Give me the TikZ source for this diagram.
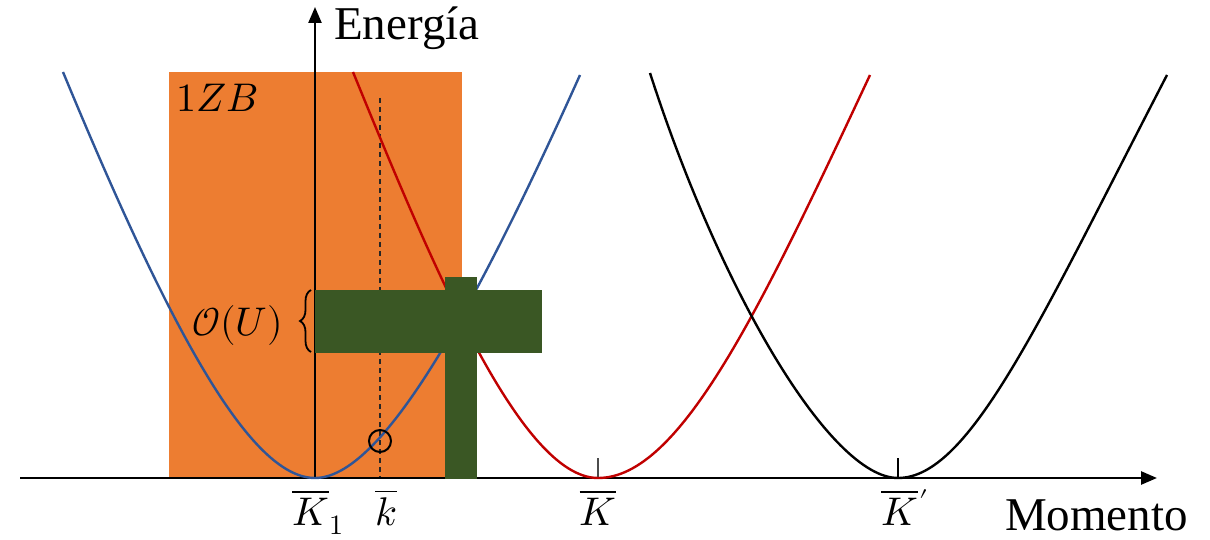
\documentclass[tikz,border=0pt]{standalone}
\usepackage{fontspec}
\usepackage{unicode-math}
\setmainfont{Liberation Serif}
\setmathfont{Latin Modern Math}
\usetikzlibrary{arrows.meta,decorations.pathreplacing}
\definecolor{zbOrange}{HTML}{ED7D31}
\definecolor{zbGreen}{HTML}{3A5724}
\definecolor{zbBlue}{HTML}{2F5597}
\definecolor{zbRed}{HTML}{C00000}
\begin{document}
\begin{tikzpicture}[x=1pt,y=-1pt,
  band/.style={line width=2.4pt},
  axisline/.style={line width=2.6pt,-{Triangle[length=16pt,width=13pt]}},
  ticky/.style={line width=1.2pt},
  bigtext/.style={font=\fontsize{47}{50}\selectfont},
  mathlbl/.style={font=\fontsize{40}{44}\selectfont},
  greenblock/.style={fill=zbGreen,draw=none}]
\useasboundingbox (0,0) rectangle (1210,540);
% zone
\fill[zbOrange] (169,72) rectangle (462,478);
\node[mathlbl,anchor=base west,inner sep=0pt] (zb) at (176,112) {$1ZB$};
% dashed line
\coordinate (kt) at (380,98);
\coordinate (kb) at (380,478);
\draw[black!85,line width=1.2pt,dash pattern=on 5pt off 4pt] (kt) -- (kb);
% axes
\coordinate (xs) at (20,478);
\coordinate (xe) at (1157,478);
\coordinate (ys) at (315,478);
\coordinate (ye) at (315,7);
\draw[axisline] (xs) -- (xe);
\draw[axisline,line width=2.4pt] (ys) -- (ye);
% ticks
\coordinate (t1) at (598,458);
\coordinate (t1b) at (598,478);
\coordinate (t2) at (898,458);
\coordinate (t2b) at (898,478);
\draw[ticky,black!70] (t1) -- (t1b);
\draw[ticky] (t2) -- (t2b);
% blue band
\coordinate (bA) at (63,72);
\coordinate (bV) at (315,478);
\coordinate (bB) at (580,75);
\draw[band,zbBlue] (bA) .. controls (170,330) and (250,478) .. (bV)
  .. controls (380,478) and (470,320) .. (bB);
% red band
\coordinate (rA) at (353,72);
\coordinate (rV) at (598,478);
\coordinate (rB) at (870,75);
\draw[band,zbRed] (rA) .. controls (430,260) and (520,478) .. (rV)
  .. controls (680,478) and (760,310) .. (rB);
% black band
\coordinate (kA) at (650,73);
\coordinate (kV) at (898,478);
\coordinate (kB) at (1167,75);
\draw[band,black] (kA) .. controls (720,290) and (830,478) .. (kV)
  .. controls (970,478) and (1040,320) .. (kB);
% circle
\node[draw,circle,line width=2pt,minimum size=22pt,inner sep=0pt] (pt) at (380,441) {};
% green blocks
\fill[greenblock] (315,290) rectangle (542,353);
\fill[greenblock] (445,277) rectangle (477,479);
% brace
\coordinate (brb) at (311,352);
\coordinate (brt) at (311,290);
\draw[decorate,decoration={brace,amplitude=11pt},line width=1.8pt] (brb) -- (brt);
\node[mathlbl,anchor=base east,inner sep=0pt] (ou) at (283,335) {$\mathcal{O}(U)$};
% labels
\node[bigtext,anchor=base west,inner sep=0pt] (en) at (334,40) {Energía};
\node[bigtext,anchor=base east,inner sep=0pt] (mo) at (1188,530) {Momento};
\node[mathlbl,anchor=base,inner sep=0pt] (k1) at (318,525) {$\overline{K}_1$};
\node[mathlbl,anchor=base,inner sep=0pt] (kk) at (386,525) {$\overline{k}$};
\node[mathlbl,anchor=base,inner sep=0pt] (kK) at (598,525) {$\overline{K}$};
\node[mathlbl,anchor=base,inner sep=0pt] (kp) at (905,525) {$\overline{K}\kern2pt{}'$};
\end{tikzpicture}
\end{document}
